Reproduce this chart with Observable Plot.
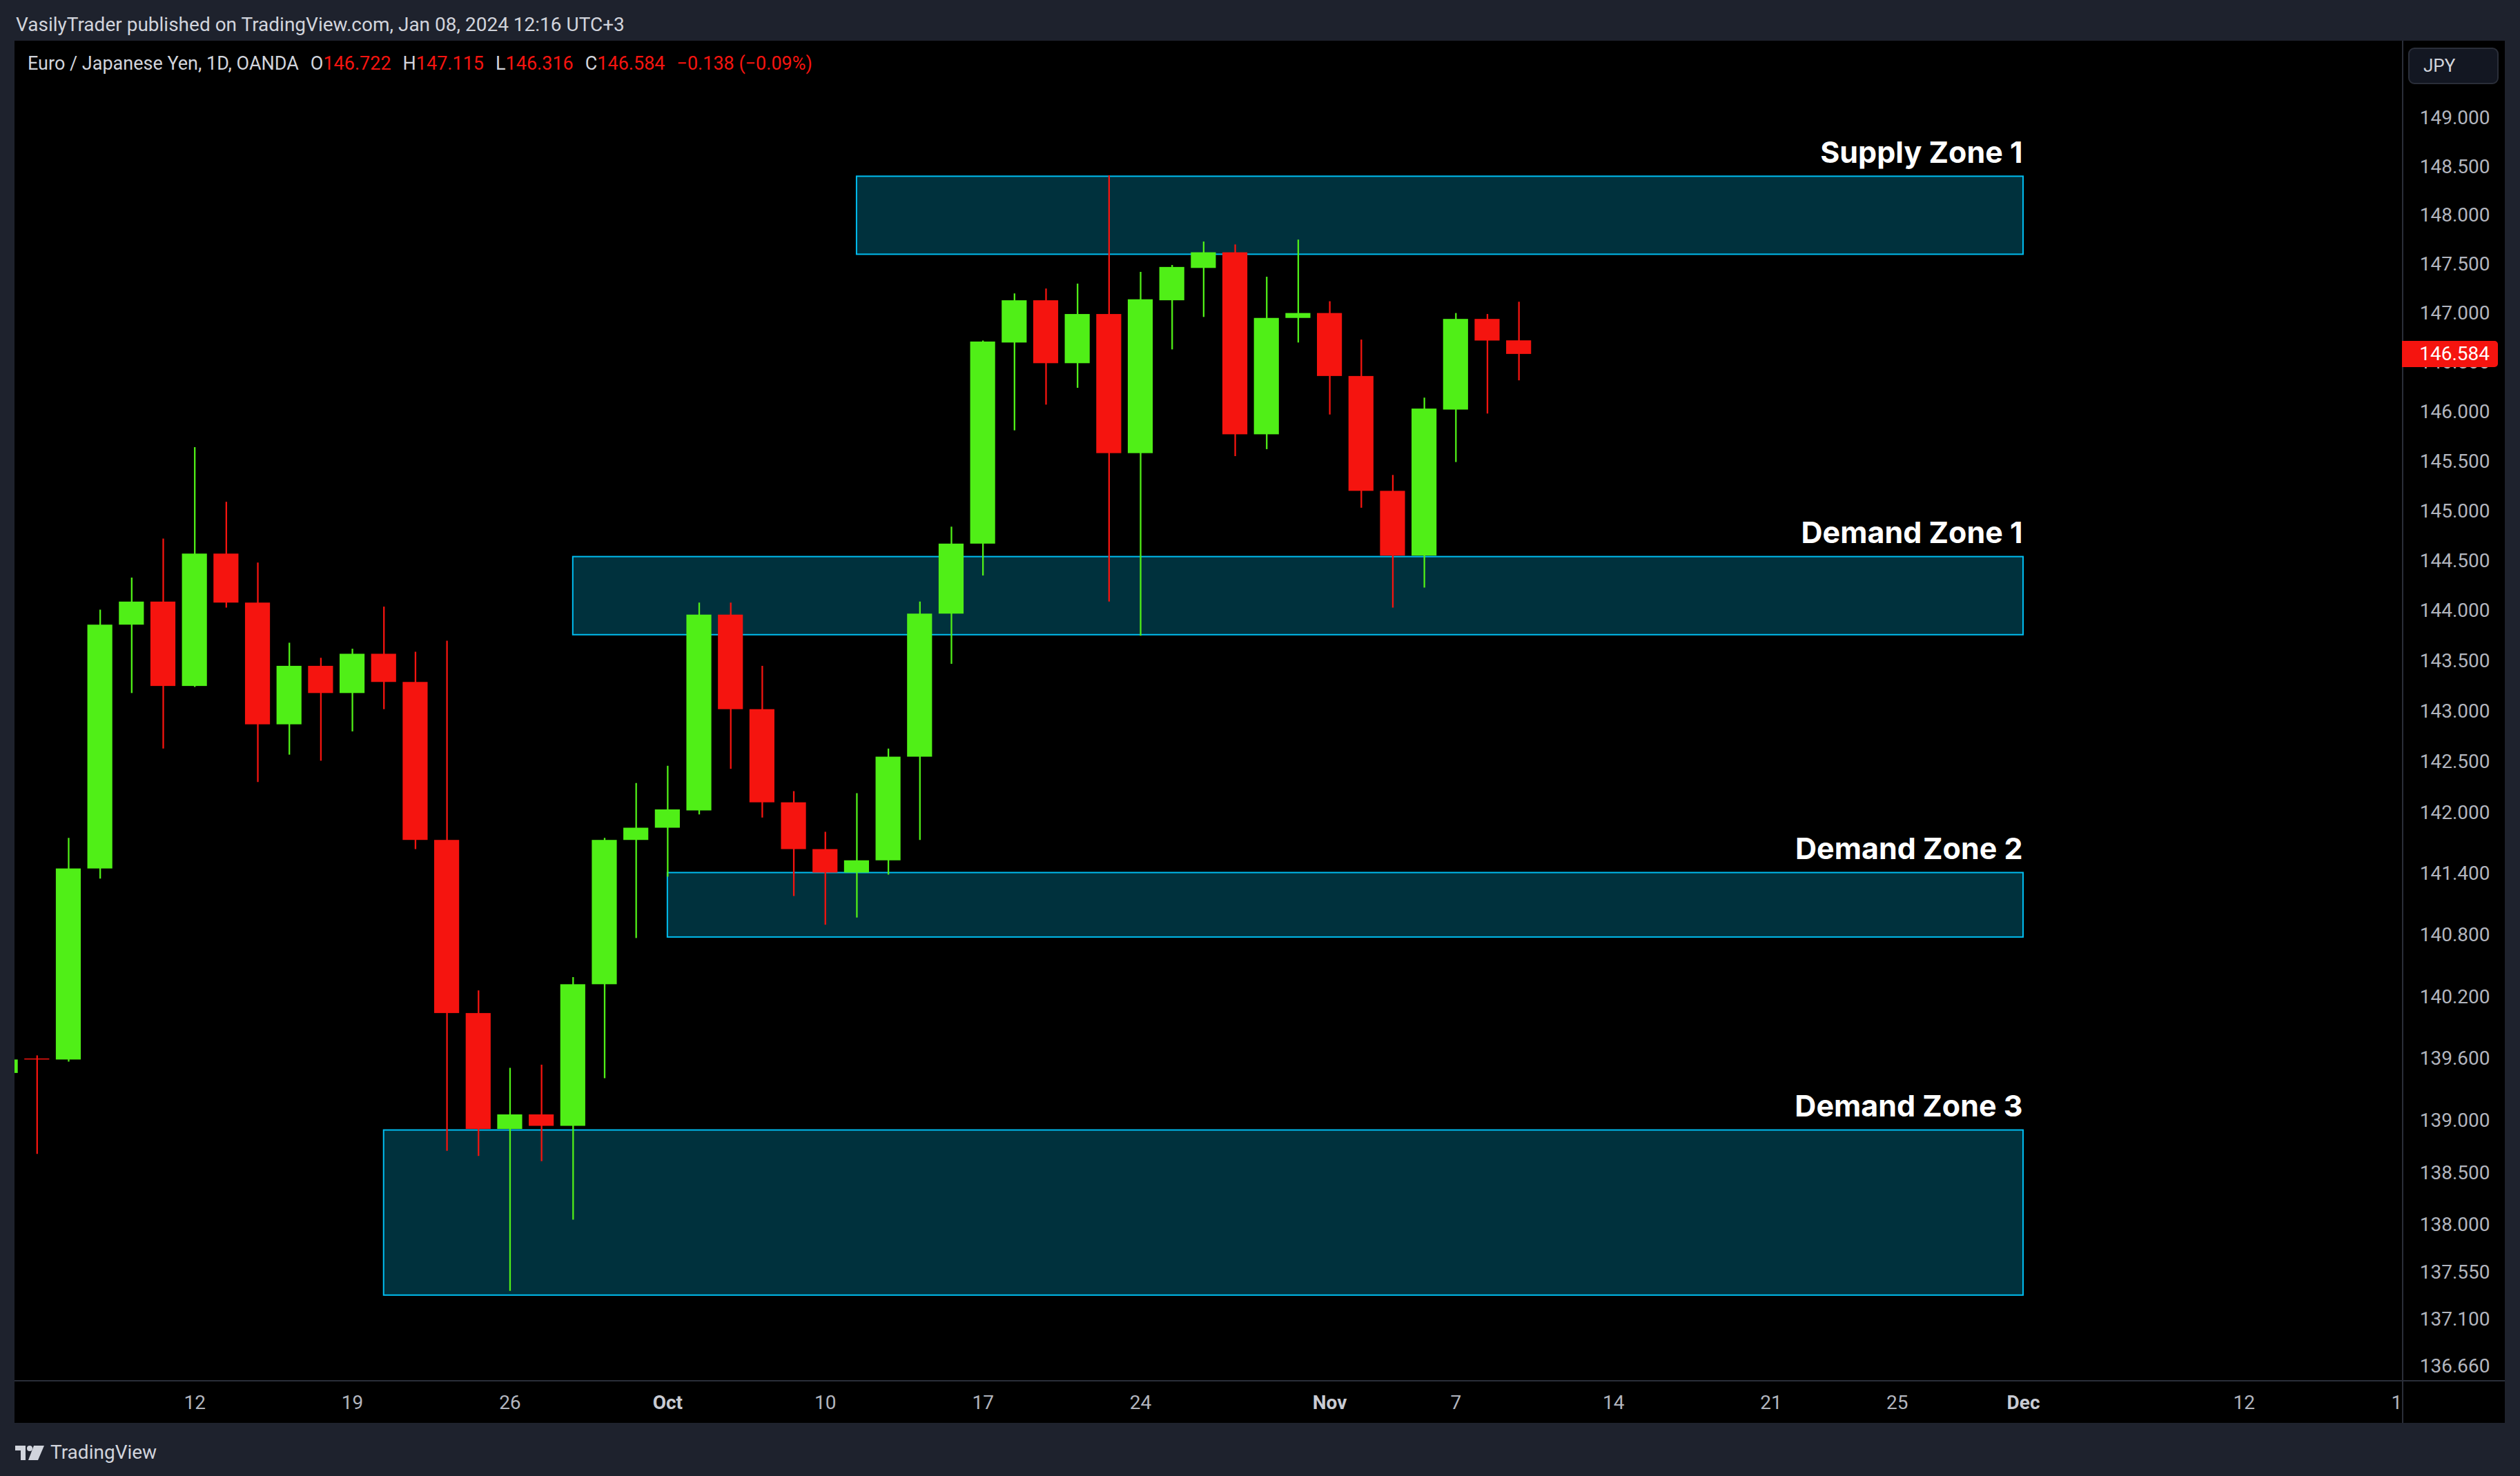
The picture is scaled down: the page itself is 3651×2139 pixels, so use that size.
<!DOCTYPE html>
<html>
<head>
<meta charset="utf-8">
<script src="https://cdn.jsdelivr.net/npm/d3@7"></script>
<script src="https://cdn.jsdelivr.net/npm/@observablehq/plot@0.6"></script>
<style>
  html, body { margin: 0; padding: 0; width: 3651px; height: 2139px; overflow: hidden; background: #1e222d; font-family: Roboto, "Noto Sans", sans-serif; }
  #title { position: absolute; left: 23px; top: 20px; font-size: 28px; color: #d1d4dc; white-space: nowrap; line-height: 32px; }
  #pane { position: absolute; left: 21px; top: 59px; width: 3608px; height: 2003px; background: #000000; overflow: hidden; }
  #pane svg { position: absolute; left: 0; top: 0; }
  #legend { position: absolute; left: 19px; top: 17px; font-size: 27px; line-height: 32px; color: #d1d4dc; white-space: nowrap; display: flex; }
  #legend .g { margin-left: 17px; }
  #legend .v { color: #f5140f; }
  #vline { position: absolute; left: 3459px; top: 0; width: 2px; height: 2003px; background: #2a2e39; }
  #hline { position: absolute; left: 0; top: 1941px; width: 3608px; height: 2px; background: #2a2e39; }
  #jpy { position: absolute; left: 3468px; top: 10px; width: 131px; height: 53px; box-sizing: border-box; border: 2px solid #2a2e39; border-radius: 9px; background: #131722; color: #d1d4dc; font-size: 26px; line-height: 49px; padding-left: 20px; }
  #price { position: absolute; left: 3459px; width: 139px; height: 38px; background: #f5140f; border-radius: 0 5px 5px 0; color: #ffffff; font-size: 28px; line-height: 38px; text-align: right; box-sizing: border-box; padding-right: 12px; }
  #footer { position: absolute; left: 22px; top: 2089px; display: flex; align-items: center; color: #d1d4dc; font-size: 28px; line-height: 32px; }
  #footer svg { margin-right: 9px; }
</style>
</head>
<body>
<div id="title">VasilyTrader published on TradingView.com, Jan 08, 2024 12:16 UTC+3</div>
<div id="pane">
  <div id="legend">
    <span>Euro / Japanese Yen, 1D, OANDA</span>
    <span class="g">O<span class="v">146.722</span></span>
    <span class="g">H<span class="v">147.115</span></span>
    <span class="g">L<span class="v">146.316</span></span>
    <span class="g">C<span class="v">146.584</span></span>
    <span class="g v">−0.138 (−0.09%)</span>
  </div>
  <div id="vline"></div>
  <div id="hline"></div>
  <div id="jpy">JPY</div>
</div>
<div id="footer">
  <svg width="42" height="21" viewBox="0 0 42 21"><path d="M0 0H15V21H8V7H0Z" fill="#d1d4dc"/><circle cx="21" cy="4" r="4" fill="#d1d4dc"/><path d="M27 0H42L33 21H19Z" fill="#d1d4dc"/></svg>
  <span>TradingView</span>
</div>
<script>
// EUR/JPY daily candles (bar index 0 = Sep 4, 2023 ... 48 = Nov 9, 2023)
const opens  = [139.46, 139.60, 139.59, 141.45, 143.86, 144.09, 143.25, 144.57, 144.08, 142.87, 143.45, 143.18, 143.57, 143.29, 141.73, 140.04, 138.92, 139.06, 138.95, 140.32, 141.73, 141.85, 142.02, 143.96, 143.02, 142.10, 141.64, 141.41, 141.53, 142.55, 143.97, 144.67, 146.70, 147.13, 146.49, 146.99, 145.58, 147.13, 147.46, 147.62, 145.77, 146.95, 147.00, 146.36, 145.20, 144.55, 146.02, 146.94, 146.722];
const highs  = [139.62, 139.63, 141.75, 144.01, 144.33, 144.72, 145.64, 145.09, 144.48, 143.68, 143.53, 143.62, 144.04, 143.59, 143.70, 140.26, 139.51, 139.54, 140.39, 141.75, 142.29, 142.46, 144.08, 144.08, 143.45, 142.21, 141.81, 142.19, 142.63, 144.09, 144.84, 146.72, 147.20, 147.25, 147.30, 148.41, 147.42, 147.49, 147.73, 147.70, 147.37, 147.75, 147.12, 146.73, 145.36, 146.14, 147.00, 146.99, 147.115];
const lows   = [139.43, 138.68, 139.57, 141.35, 143.18, 142.63, 143.24, 144.03, 142.30, 142.57, 142.51, 142.80, 143.02, 141.64, 138.71, 138.66, 137.37, 138.61, 138.05, 139.41, 140.77, 141.37, 141.98, 142.43, 141.95, 141.18, 140.90, 140.97, 141.39, 141.73, 143.47, 144.35, 145.81, 146.07, 146.24, 144.09, 143.75, 146.63, 146.96, 145.55, 145.62, 146.70, 145.97, 145.03, 144.03, 144.23, 145.49, 145.98, 146.316];
const closes = [139.59, 139.59, 141.45, 143.86, 144.09, 143.25, 144.57, 144.08, 142.87, 143.45, 143.18, 143.57, 143.29, 141.73, 140.04, 138.92, 139.06, 138.95, 140.32, 141.73, 141.85, 142.03, 143.96, 143.02, 142.10, 141.64, 141.41, 141.53, 142.55, 143.97, 144.67, 146.71, 147.13, 146.49, 146.99, 145.58, 147.14, 147.47, 147.62, 145.77, 146.95, 147.00, 146.36, 145.20, 144.55, 146.03, 146.94, 146.72, 146.584];

// Zones (bar index range, price range)
const zoneNames  = ["Supply Zone 1", "Demand Zone 1", "Demand Zone 2", "Demand Zone 3"];
const zoneStart  = [27, 18, 21, 12];
const zoneEnd    = [64, 64, 64, 64];
const zoneTop    = [148.40, 144.54, 141.41, 138.91];
const zoneBottom = [147.60, 143.76, 140.78, 137.33];

// Axes
const yTicks = [149, 148.5, 148, 147.5, 147, 146.5, 146, 145.5, 145, 144.5, 144, 143.5, 143, 142.5, 142, 141.4, 140.8, 140.2, 139.6, 139, 138.5, 138, 137.55, 137.1, 136.66];
const dayTickIdx = [6, 11, 16, 26, 31, 36, 46, 51, 56, 60, 71, 75.84];
const dayTickLabels = ["12", "19", "26", "10", "17", "24", "7", "14", "21", "25", "12", "1"];
const monthTickIdx = [21, 42, 64];
const monthTickLabels = ["Oct", "Nov", "Dec"];
const xDomain = [0.293, 76.04];
const yDomain = [136.517, 149.80];
const lastClose = 146.584;

const GREEN = "#50ef17", RED = "#f5140f";
const candles = opens.map((o, i) => ({i, open: o, high: highs[i], low: lows[i], close: closes[i]}));
const zones = zoneNames.map((name, k) => ({name, x1: zoneStart[k], x2: zoneEnd[k], top: zoneTop[k], bottom: zoneBottom[k]}));
const col = d => d.close >= d.open ? GREEN : RED;
const half = 0.396;
const dayMap = new Map(dayTickIdx.map((d, i) => [d, dayTickLabels[i]]));
const monthMap = new Map(monthTickIdx.map((d, i) => [d, monthTickLabels[i]]));

const chart = Plot.plot({
  width: 3608,
  height: 2003,
  marginLeft: 0,
  marginRight: 148,
  marginTop: 0,
  marginBottom: 61,
  style: {background: "transparent", fontFamily: "Roboto, sans-serif", overflow: "visible"},
  x: {type: "linear", domain: xDomain},
  y: {type: "log", domain: yDomain},
  color: {type: "identity"},
  marks: [
    Plot.rect(zones, {x1: "x1", x2: "x2", y1: "bottom", y2: "top", fill: "#00313d", stroke: "#00bdf0", strokeWidth: 2}),
    Plot.ruleX(candles, {x: "i", y1: "low", y2: "high", stroke: col, strokeWidth: 2.3, clip: true}),
    Plot.rect(candles, {x1: d => d.i - half, x2: d => d.i + half, y1: "open", y2: "close", fill: col, clip: true}),
    Plot.text(zones, {x: "x2", y: "top", text: "name", textAnchor: "end", lineAnchor: "bottom", dx: -1, dy: -20, fontSize: 43, fontWeight: 700, fill: "#ffffff", fontFamily: "Inter, Roboto, sans-serif"}),
    Plot.axisY(yTicks, {anchor: "right", tickSize: 0, tickPadding: 126, textAnchor: "end", tickFormat: d => d.toFixed(3), fontSize: 28, color: "#b2b5be"}),
    Plot.axisX(dayTickIdx, {anchor: "bottom", tickSize: 0, tickPadding: 21, tickFormat: d => dayMap.get(d), fontSize: 28, color: "#b2b5be"}),
    Plot.axisX(monthTickIdx, {anchor: "bottom", tickSize: 0, tickPadding: 21, tickFormat: d => monthMap.get(d), fontSize: 28, fontWeight: 700, color: "#c8cbd3"})
  ]
});

const pane = document.getElementById("pane");
pane.insertBefore(chart, pane.firstChild);

const py = chart.scale("y").apply(lastClose);
const lbl = document.createElement("div");
lbl.id = "price";
lbl.textContent = lastClose.toFixed(3);
lbl.style.top = (py - 19) + "px";
pane.appendChild(lbl);
</script>
</body>
</html>
